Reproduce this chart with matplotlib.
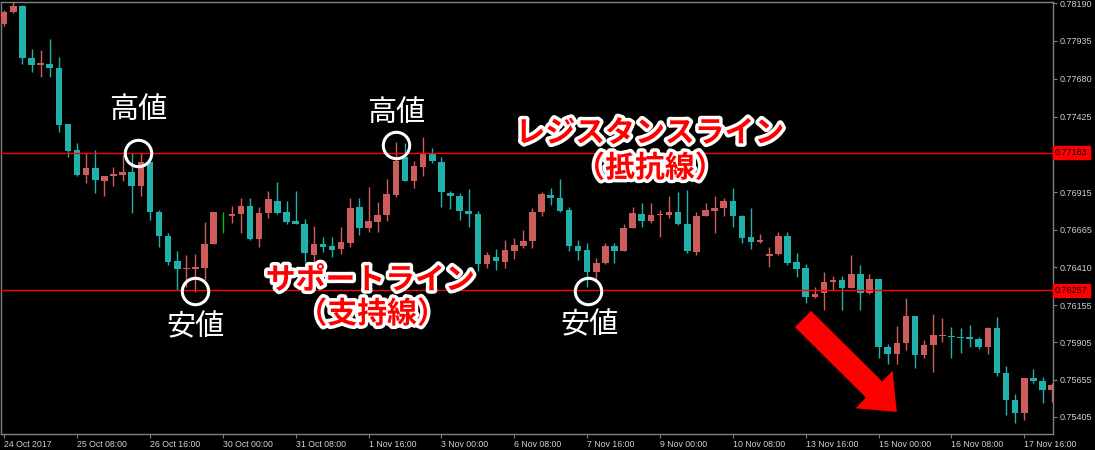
import matplotlib
matplotlib.use("Agg")
import matplotlib.pyplot as plt
import matplotlib.patheffects as pe

# ---- data (H4 candles) ----
opens = [0.78049, 0.78129, 0.78170, 0.77820, 0.77773, 0.77779, 0.77752, 0.77376,
         0.77201, 0.77032, 0.77079, 0.76992, 0.77026, 0.77032, 0.77052, 0.76958,
         0.77120, 0.76783, 0.76622, 0.76454, 0.76400, 0.76400, 0.76406, 0.76568,
         0.76756, 0.76756, 0.76770, 0.76824, 0.76602, 0.76777, 0.76857, 0.76783,
         0.76723, 0.76703, 0.76494, 0.76568, 0.76554, 0.76534, 0.76575, 0.76817,
         0.76676, 0.76716, 0.76763, 0.76898, 0.77153, 0.76992, 0.77086, 0.77174,
         0.77120, 0.76911, 0.76891, 0.76790, 0.76770, 0.76433, 0.76480, 0.76447,
         0.76521, 0.76554, 0.76588, 0.76783, 0.76898, 0.76877, 0.76797, 0.76554,
         0.76528, 0.76379, 0.76440, 0.76554, 0.76521, 0.76676, 0.76770, 0.76723,
         0.76763, 0.76763, 0.76783, 0.76703, 0.76514, 0.76756, 0.76790, 0.76810,
         0.76857, 0.76756, 0.76615, 0.76581, 0.76487, 0.76501, 0.76622, 0.76447,
         0.76406, 0.76211, 0.76238, 0.76312, 0.76326, 0.76272, 0.76366, 0.76238,
         0.76332, 0.75875, 0.75828, 0.75902, 0.76083, 0.75821, 0.75888, 0.75949,
         0.75949, 0.75942, 0.75942, 0.75929, 0.75875, 0.76003, 0.75700, 0.75518,
         0.75431, 0.75666, 0.75646, 0.75585]
highs = [0.78143, 0.78197, 0.78176, 0.77880, 0.77874, 0.77948, 0.77826, 0.77376,
         0.77248, 0.77180, 0.77201, 0.77026, 0.77086, 0.77167, 0.77180, 0.77180,
         0.77120, 0.76797, 0.76642, 0.76521, 0.76494, 0.76501, 0.76716, 0.76783,
         0.76783, 0.76824, 0.76877, 0.76877, 0.76817, 0.76925, 0.76985, 0.76857,
         0.76925, 0.76736, 0.76689, 0.76615, 0.76615, 0.76682, 0.76877, 0.76877,
         0.76952, 0.76851, 0.77005, 0.77254, 0.77248, 0.77127, 0.77288, 0.77214,
         0.77153, 0.76925, 0.76911, 0.76938, 0.76790, 0.76514, 0.76534, 0.76595,
         0.76608, 0.76662, 0.76810, 0.76918, 0.76945, 0.77005, 0.76817, 0.76595,
         0.76575, 0.76474, 0.76575, 0.76575, 0.76703, 0.76817, 0.76844, 0.76844,
         0.76797, 0.76891, 0.76918, 0.76931, 0.76783, 0.76844, 0.76891, 0.76877,
         0.76945, 0.76763, 0.76810, 0.76635, 0.76548, 0.76649, 0.76649, 0.76507,
         0.76433, 0.76279, 0.76379, 0.76353, 0.76353, 0.76494, 0.76427, 0.76366,
         0.76332, 0.75895, 0.76016, 0.76205, 0.76083, 0.75922, 0.76097, 0.76070,
         0.76009, 0.76003, 0.76023, 0.75942, 0.76009, 0.76077, 0.75747, 0.75558,
         0.75666, 0.75727, 0.75673, 0.75632]
lows = [0.78035, 0.78123, 0.77779, 0.77725, 0.77692, 0.77692, 0.77322, 0.77153,
        0.77026, 0.76978, 0.76911, 0.76891, 0.76958, 0.76992, 0.76777, 0.76891,
        0.76729, 0.76548, 0.76427, 0.76258, 0.76279, 0.76245, 0.76326, 0.76568,
        0.76642, 0.76709, 0.76642, 0.76595, 0.76548, 0.76743, 0.76770, 0.76703,
        0.76703, 0.76447, 0.76433, 0.76514, 0.76480, 0.76501, 0.76548, 0.76628,
        0.76649, 0.76649, 0.76723, 0.76884, 0.76992, 0.76945, 0.77026, 0.77113,
        0.76817, 0.76803, 0.76729, 0.76682, 0.76386, 0.76406, 0.76393, 0.76406,
        0.76467, 0.76541, 0.76541, 0.76756, 0.76830, 0.76783, 0.76521, 0.76460,
        0.76279, 0.76326, 0.76433, 0.76440, 0.76521, 0.76676, 0.76682, 0.76709,
        0.76615, 0.76743, 0.76696, 0.76507, 0.76494, 0.76756, 0.76642, 0.76756,
        0.76682, 0.76575, 0.76534, 0.76575, 0.76413, 0.76494, 0.76427, 0.76346,
        0.76171, 0.76205, 0.76124, 0.76258, 0.76124, 0.76272, 0.76124, 0.76231,
        0.75801, 0.75760, 0.75760, 0.75855, 0.75733, 0.75801, 0.75706, 0.75908,
        0.75801, 0.75834, 0.75875, 0.75861, 0.75828, 0.75680, 0.75417, 0.75363,
        0.75383, 0.75632, 0.75498, 0.75505]
closes = [0.78129, 0.78170, 0.77820, 0.77773, 0.77786, 0.77752, 0.77369, 0.77194,
          0.77032, 0.77079, 0.76999, 0.77026, 0.77039, 0.77052, 0.76958, 0.77120,
          0.76783, 0.76622, 0.76447, 0.76400, 0.76406, 0.76413, 0.76568, 0.76783,
          0.76756, 0.76770, 0.76824, 0.76602, 0.76777, 0.76871, 0.76777, 0.76716,
          0.76703, 0.76507, 0.76568, 0.76548, 0.76528, 0.76581, 0.76810, 0.76676,
          0.76723, 0.76763, 0.76904, 0.77127, 0.76992, 0.77093, 0.77174, 0.77127,
          0.76918, 0.76891, 0.76790, 0.76770, 0.76433, 0.76494, 0.76454, 0.76528,
          0.76561, 0.76588, 0.76783, 0.76904, 0.76877, 0.76790, 0.76554, 0.76521,
          0.76379, 0.76440, 0.76554, 0.76521, 0.76676, 0.76777, 0.76723, 0.76763,
          0.76770, 0.76783, 0.76703, 0.76521, 0.76756, 0.76797, 0.76810, 0.76857,
          0.76756, 0.76608, 0.76581, 0.76595, 0.76501, 0.76622, 0.76440, 0.76400,
          0.76211, 0.76231, 0.76312, 0.76326, 0.76272, 0.76366, 0.76238, 0.76332,
          0.75875, 0.75828, 0.75902, 0.76083, 0.75821, 0.75888, 0.75955, 0.75955,
          0.75942, 0.75935, 0.75929, 0.75875, 0.76003, 0.75700, 0.75518, 0.75431,
          0.75666, 0.75646, 0.75585, 0.75619]

date_labels = ["24 Oct 2017", "25 Oct 08:00", "26 Oct 16:00", "30 Oct 00:00",
               "31 Oct 08:00", "1 Nov 16:00", "3 Nov 00:00", "6 Nov 08:00",
               "7 Nov 16:00", "9 Nov 00:00", "10 Nov 08:00", "13 Nov 16:00",
               "15 Nov 00:00", "16 Nov 08:00", "17 Nov 16:00"]
bars_per_label = 8
price_ticks = [0.78190, 0.77935, 0.77680, 0.77425, 0.76915, 0.76665,
               0.76410, 0.76155, 0.75905, 0.75655, 0.75405]
resistance = 0.77183
support = 0.76257

# ---- styles ----
BULL = "#cd5c5c"
BEAR = "#20b2aa"
DOJI = "#00c000"
GRID = "#808080"
TXT = "#d0d0d0"
JP = ["Noto Sans CJK JP", "DejaVu Sans"]

W, H = 1095, 450
fig = plt.figure(figsize=(W / 100, H / 100), dpi=100, facecolor="black")
ax = fig.add_axes([1 / W, 1 - 434 / H, 1052 / W, 432 / H], facecolor="black")

n = len(opens)
xs = list(range(n))
for i in xs:
    o, h, l, c = opens[i], highs[i], lows[i], closes[i]
    col = BULL if c > o else (BEAR if c < o else DOJI)
    ax.vlines(i, l, h, color=col, linewidth=1.0, zorder=2)
    lo_b, hi_b = min(o, c), max(o, c)
    hgt = max(hi_b - lo_b, 0.00005)
    ax.bar(i, hgt, bottom=lo_b - (hgt - (hi_b - lo_b)) / 2, width=0.72,
           color=col, linewidth=0, zorder=3)

ax.set_xlim(-0.35, 115.15)
ax.set_ylim(0.75289, 0.78197)

# level lines with price boxes
for lvl in (resistance, support):
    ax.axhline(lvl, color="#ff0000", linewidth=1.0, zorder=4)
    ax.text(1.002, lvl, f"{lvl:.5f}", transform=ax.get_yaxis_transform(),
            ha="left", va="center", fontsize=6.5, family="Liberation Sans",
            color="black", zorder=10, clip_on=False,
            bbox=dict(boxstyle="square,pad=0.22", fc="#ff0000", ec="#ff0000"))

# axes styling
for sp in ax.spines.values():
    sp.set_color(GRID)
    sp.set_linewidth(1.0)
ax.yaxis.tick_right()
ax.set_yticks(price_ticks)
ax.set_yticklabels([f"{p:.5f}" for p in price_ticks])
ax.tick_params(axis="y", colors=GRID, length=3, width=0.8, pad=2,
               labelcolor=TXT, labelsize=6.5)
ax.set_xticks([k * bars_per_label for k in range(len(date_labels))])
ax.set_xticklabels(date_labels)
ax.tick_params(axis="x", colors=GRID, length=3, width=0.8, pad=1.5,
               labelcolor=TXT, labelsize=6.3)
for lab in ax.get_xticklabels() + ax.get_yticklabels():
    lab.set_family("Liberation Sans")
for lab in ax.get_xticklabels():
    lab.set_ha("left")

# ---- annotations ----
circles = [(14.7, resistance), (43.0, 0.77234), (21.0, 0.76252), (64.1, 0.76252)]
for cx, cy in circles:
    ax.plot(cx, cy, marker="o", markersize=19, markerfacecolor="none",
            markeredgecolor="white", markeredgewidth=2.2, zorder=6)

white_labels = [(14.7, 0.77470, "高値"), (43.0, 0.77450, "高値"),
                (21.0, 0.76009, "安値"), (64.3, 0.76023, "安値")]
for tx, ty, s in white_labels:
    ax.text(tx, ty, s, color="white", fontsize=21, family=JP,
            ha="center", va="center", zorder=7)

glow = [pe.withStroke(linewidth=5, foreground="white")]
red_labels = [(70.9, 0.77315, "レジスタンスライン"), (70.9, 0.77079, "（抵抗線）"),
              (40.2, 0.76326, "サポートライン"), (40.4, 0.76097, "（支持線）")]
for tx, ty, s in red_labels:
    ax.text(tx, ty, s, color="#ff0000", fontsize=21.5, family=JP, weight="bold",
            ha="center", va="center", zorder=8, path_effects=glow)

ax.annotate("", xy=(98.0, 0.75437), xytext=(87.7, 0.76063),
            arrowprops=dict(arrowstyle="simple,head_length=2.3,head_width=3.8,tail_width=1.65",
                            mutation_scale=10, color="#ff0000", lw=0,
                            shrinkA=0, shrinkB=0), zorder=9)

fig.savefig("out.png", dpi=100, facecolor="black")
